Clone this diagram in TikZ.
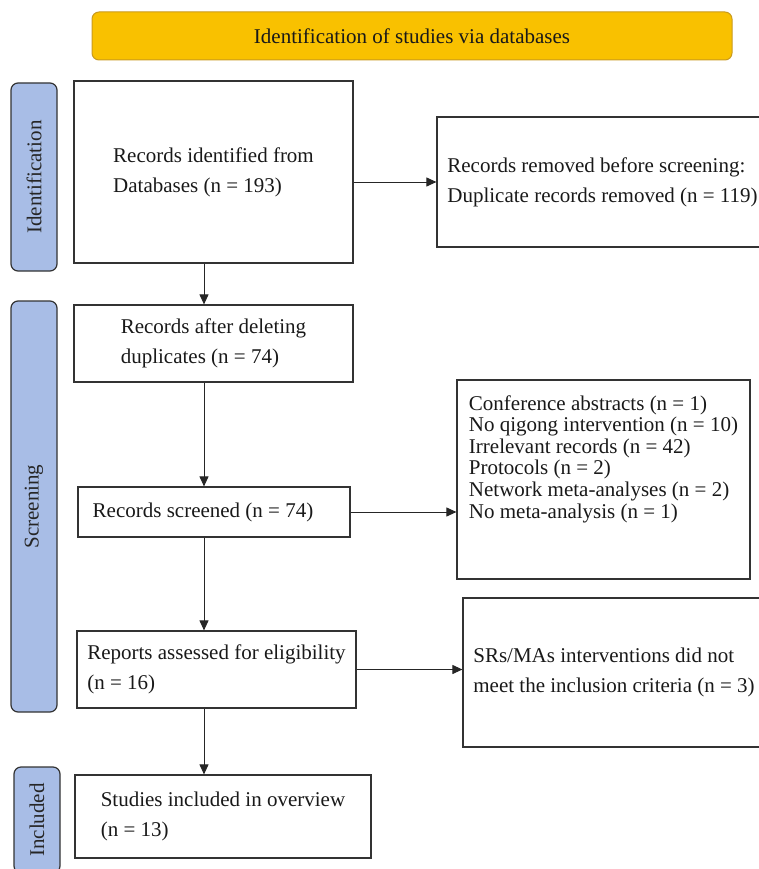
\documentclass[tikz,border=0pt]{standalone}
\usepackage{fontspec}
\setmainfont{Liberation Serif}
\usetikzlibrary{arrows.meta}
\definecolor{titleGold}{HTML}{F9C100}
\definecolor{titleEdge}{HTML}{C99A1E}
\definecolor{sideBlue}{HTML}{A8BDE6}
\definecolor{edgeGray}{HTML}{333333}
\begin{document}
\begin{tikzpicture}
[x=1pt,y=-1pt,
  lineDecorate/.style={-{Triangle[length=10pt,width=9pt]},line width=1pt,draw=black!85},%
  boxDecorate/.style={shape=rectangle,draw=edgeGray,line width=1.2pt,align=left,inner sep=0pt,text=black!90},%
  sideDecorate/.style={shape=rectangle,rounded corners=7pt,draw=edgeGray,line width=1.2pt,fill=sideBlue,rotate=90,minimum height=46pt,inner sep=0pt,text=black!85},%
  titleDecorate/.style={shape=rectangle,rounded corners=7pt,draw=titleEdge,line width=1pt,fill=titleGold,minimum width=640pt,minimum height=48pt,text=black!90},%
  font=\fontsize{21}{30}\selectfont]
\useasboundingbox (0,0) rectangle (759,869);
%% header
\node (title) at (412,36) [titleDecorate] {Identification of studies via databases};
%% phase labels on the left
\node (phaseId) at (34,177) [sideDecorate,minimum width=188pt] {Identification};
\node (phaseScr) at (34,506.5) [sideDecorate,minimum width=411pt] {Screening};
\node (phaseInc) at (37,820) [sideDecorate,minimum width=106pt] {Included};
%% main column
\node (ident) at (213.5,172) [boxDecorate,minimum width=279pt,minimum height=182pt] {Records identified from\\Databases (n = 193)};
\node (dedup) at (213.5,343.5) [boxDecorate,minimum width=279pt,minimum height=77pt] {Records after deleting\\duplicates (n = 74)};
\node (screen) at (214,512) [boxDecorate,minimum width=272pt,minimum height=50pt] {Records screened (n = 74)\hspace{22pt}};
\node (reports) at (216.5,669.5) [boxDecorate,minimum width=279pt,minimum height=77pt] {Reports assessed for eligibility\\(n = 16)};
\node (incl) at (223,816.5) [boxDecorate,minimum width=296pt,minimum height=83pt] {Studies included in overview\\(n = 13)};
%% exclusions on the right
\node (removed) at (602.5,182) [boxDecorate,minimum width=331pt,minimum height=130pt] {Records removed before screening:\\Duplicate records removed (n = 119)};
\node (excl) at (603.5,479.5) [boxDecorate,minimum width=293pt,minimum height=199pt,font=\fontsize{21}{21.6}\selectfont] {Conference abstracts (n = 1)\\No qigong intervention (n = 10)\\Irrelevant records (n = 42)\\Protocols (n = 2)\\Network meta-analyses (n = 2)\\No meta-analysis (n = 1)\\[24pt]\mbox{}};
\node (inelig) at (614,672.5) [boxDecorate,minimum width=302pt,minimum height=149pt] {SRs/MAs interventions did not\\meet the inclusion criteria (n = 3)};
%% stub for the down arrows
\coordinate (spine) at (204,0);
%% connectors
\draw [lineDecorate] (ident.south -| spine) -- (dedup.north -| spine);
\draw [lineDecorate] (dedup.south -| spine) -- (screen.north -| spine);
\draw [lineDecorate] (screen.south -| spine) -- (reports.north -| spine);
\draw [lineDecorate] (reports.south -| spine) -- (incl.north -| spine);
\draw [lineDecorate] (ident.east |- removed.west) -- (removed.west);
\draw [lineDecorate] (screen.east) -- (screen.east -| excl.west);
\draw [lineDecorate] (reports.east) -- (reports.east -| inelig.west);
\end{tikzpicture}
\end{document}
